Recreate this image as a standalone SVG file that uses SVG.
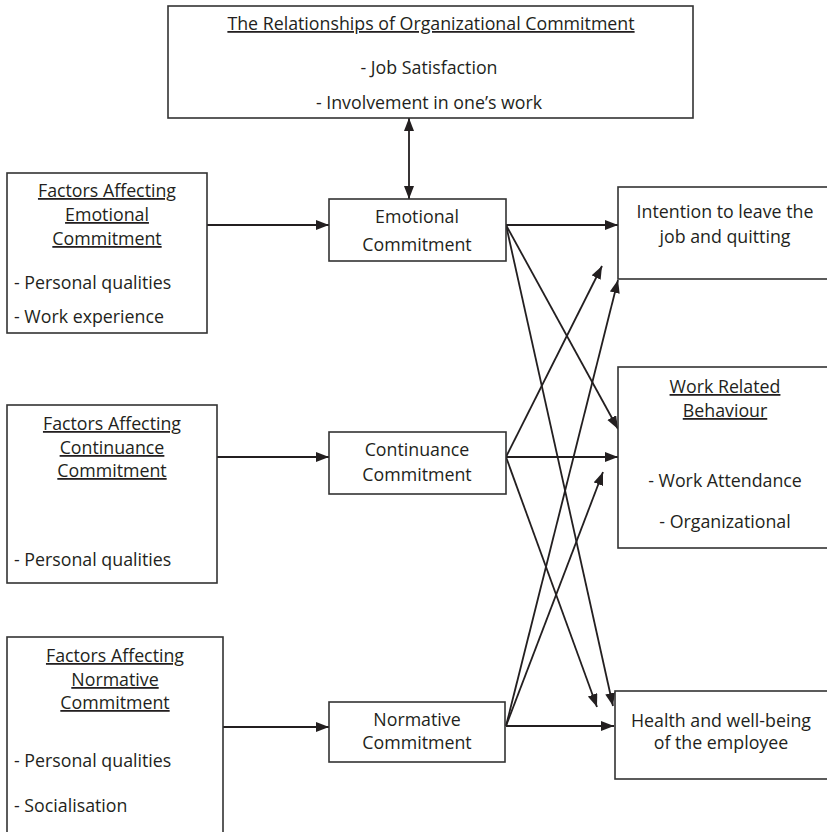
<svg xmlns="http://www.w3.org/2000/svg" width="827" height="832" viewBox="0 0 827 832">
<style>
.box{fill:#fff;stroke:#333;stroke-width:1.6}
text{font-family:"Open Sans","Noto Sans","Liberation Sans",sans-serif;font-size:17.8px;fill:#231f20}
.c{text-anchor:middle}
.u{text-decoration:underline}
.con line{stroke:#231f20;stroke-width:1.8;marker-end:url(#ah)}
</style>
<defs>
<marker id="ah" markerUnits="userSpaceOnUse" markerWidth="14" markerHeight="11" refX="13" refY="5" orient="auto-start-reverse">
<path d="M0,0 L13,5 L0,10 z" fill="#231f20"/>
</marker>
</defs>
<rect width="827" height="832" fill="#fff"/>
<g id="connectors" class="con">
<line x1="409" y1="118" x2="409" y2="199" style="marker-start:url(#ah)"/>
<line x1="207" y1="225" x2="329" y2="225"/>
<line x1="217" y1="457" x2="329" y2="457"/>
<line x1="220" y1="727" x2="329" y2="727"/>
<line x1="506" y1="225" x2="618" y2="225"/>
<line x1="506" y1="225" x2="618" y2="429"/>
<line x1="506" y1="225" x2="613" y2="706"/>
<line x1="506" y1="457" x2="618" y2="457"/>
<line x1="506" y1="457" x2="602" y2="266"/>
<line x1="506" y1="457" x2="597" y2="707"/>
<line x1="506" y1="726" x2="614" y2="726"/>
<line x1="506" y1="726" x2="618" y2="280"/>
<line x1="506" y1="726" x2="603" y2="472"/>
</g>
<g id="top">
<rect class="box" x="168" y="6" width="525" height="112"/>
<text class="c u" x="431" y="30">The Relationships of Organizational Commitment</text>
<text class="c" x="429" y="74">- Job Satisfaction</text>
<text class="c" x="429" y="109">- Involvement in one’s work</text>
</g>
<g id="factors-emotional">
<rect class="box" x="7" y="173" width="200" height="160"/>
<text class="c u" x="107" y="197">Factors Affecting</text>
<text class="c u" x="107" y="221">Emotional</text>
<text class="c u" x="107" y="245">Commitment</text>
<text x="14" y="289">- Personal qualities</text>
<text x="14" y="323">- Work experience</text>
</g>
<g id="factors-continuance">
<rect class="box" x="7" y="405" width="210" height="178"/>
<text class="c u" x="112" y="430">Factors Affecting</text>
<text class="c u" x="112" y="454">Continuance</text>
<text class="c u" x="112" y="477">Commitment</text>
<text x="14" y="566">- Personal qualities</text>
</g>
<g id="factors-normative">
<rect class="box" x="7" y="637" width="216" height="210"/>
<text class="c u" x="115" y="662">Factors Affecting</text>
<text class="c u" x="115" y="686">Normative</text>
<text class="c u" x="115" y="709">Commitment</text>
<text x="14" y="767">- Personal qualities</text>
<text x="14" y="812">- Socialisation</text>
</g>
<g id="emotional">
<rect class="box" x="329" y="199" width="177" height="62"/>
<text class="c" x="417" y="223">Emotional</text>
<text class="c" x="417" y="251">Commitment</text>
</g>
<g id="continuance">
<rect class="box" x="329" y="432" width="177" height="62"/>
<text class="c" x="417" y="456">Continuance</text>
<text class="c" x="417" y="481">Commitment</text>
</g>
<g id="normative">
<rect class="box" x="329" y="702" width="176" height="60"/>
<text class="c" x="417" y="726">Normative</text>
<text class="c" x="417" y="749">Commitment</text>
</g>
<g id="intention">
<rect class="box" x="618" y="187" width="230" height="92"/>
<text class="c" x="725" y="218">Intention to leave the</text>
<text class="c" x="725" y="243">job and quitting</text>
</g>
<g id="work">
<rect class="box" x="618" y="367" width="230" height="181"/>
<text class="c u" x="725" y="393">Work Related</text>
<text class="c u" x="725" y="417">Behaviour</text>
<text class="c" x="725" y="487">- Work Attendance</text>
<text class="c" x="725" y="528">- Organizational</text>
</g>
<g id="health">
<rect class="box" x="615" y="691" width="230" height="88"/>
<text class="c" x="721" y="727">Health and well-being</text>
<text class="c" x="721" y="749">of the employee</text>
</g>
</svg>
